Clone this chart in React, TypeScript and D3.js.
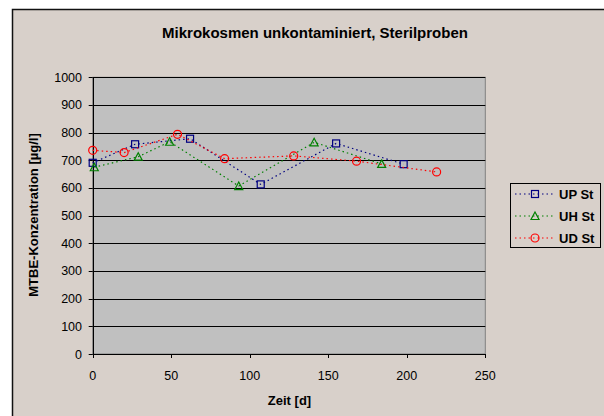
import React from "react";
import * as d3 from "d3";

const upX = [0, 27, 62, 107, 155, 198];
const upY = [691, 758, 778, 613, 761, 686];
const uhX = [1, 29, 49, 93, 141, 184];
const uhY = [675, 713, 767, 607, 765, 687];
const udX = [0, 20, 54, 84, 128, 168, 219];
const udY = [736, 728, 794, 706, 716, 697, 658];
const xTicks = [0, 50, 100, 150, 200, 250];
const yTicks = [0, 100, 200, 300, 400, 500, 600, 700, 800, 900, 1000];
const seriesNames = ["UP St", "UH St", "UD St"];

const W = 604, H = 416;
const font = "Liberation Sans, Arial, sans-serif";

export default function App() {
  const x = d3.scaleLinear().domain([0, 250]).range([92.7, 485.3]);
  const y = d3.scaleLinear().domain([0, 1000]).range([354, 77.3]);
  const series = [
    { name: seriesNames[0], xs: upX, ys: upY, color: "#000080", marker: "square" },
    { name: seriesNames[1], xs: uhX, ys: uhY, color: "#008000", marker: "triangle" },
    { name: seriesNames[2], xs: udX, ys: udY, color: "#ff0000", marker: "circle" },
  ];
  const line = d3.line<[number, number]>().x(d => x(d[0])).y(d => y(d[1]));
  const marker = (type: string, cx: number, cy: number, color: string, key: any) => {
    if (type === "square")
      return <rect key={key} x={cx - 3.5} y={cy - 3.5} width={7} height={7} fill="none" stroke={color} strokeWidth={1.2} />;
    if (type === "triangle")
      return <path key={key} d={`M${cx},${cy - 4}L${cx + 4},${cy + 3.5}L${cx - 4},${cy + 3.5}Z`} fill="none" stroke={color} strokeWidth={1.2} />;
    return <circle key={key} cx={cx} cy={cy} r={4} fill="none" stroke={color} strokeWidth={1.2} />;
  };
  const [x0, x1] = x.range();
  const [y0, y1] = y.range();
  const legY = [194, 216, 238];
  return (
    <div style={{ position: "absolute", left: 0, top: 0 }}>
      <svg width={W} height={H} style={{ display: "block" }} fontFamily={font}>
        <rect x={0} y={0} width={W} height={H} fill="#ffffff" />
        <rect x={12.5} y={9.5} width={W + 10} height={H + 10} fill="#d8d0ca" stroke="#111" strokeWidth={1.5} />
        <text x={315} y={38} textAnchor="middle" fontSize={15} fontWeight="bold">Mikrokosmen unkontaminiert, Sterilproben</text>
        <rect x={x0} y={y1} width={x1 - x0} height={y0 - y1} fill="#c0c0c0" stroke="#808080" strokeWidth={1} />
        {yTicks.map(t => (
          <line key={"g" + t} x1={x0} x2={x1} y1={Math.round(y(t)) + 0.5} y2={Math.round(y(t)) + 0.5} stroke="#000" strokeWidth={1} />
        ))}
        <line x1={Math.round(x0) + 0.5} x2={Math.round(x0) + 0.5} y1={y1} y2={y0} stroke="#000" />
        <line x1={x0} x2={x1} y1={Math.round(y0) + 0.5} y2={Math.round(y0) + 0.5} stroke="#000" />
        {yTicks.map(t => (
          <g key={"yt" + t}>
            <line x1={x0 - 4} x2={x0} y1={Math.round(y(t)) + 0.5} y2={Math.round(y(t)) + 0.5} stroke="#000" />
            <text x={82} y={y(t) + 4.5} textAnchor="end" fontSize={12.5}>{t}</text>
          </g>
        ))}
        {xTicks.map(t => (
          <g key={"xt" + t}>
            <line x1={Math.round(x(t)) + 0.5} x2={Math.round(x(t)) + 0.5} y1={y0} y2={y0 + 4} stroke="#000" />
            <text x={x(t)} y={380} textAnchor="middle" fontSize={12.5}>{t}</text>
          </g>
        ))}
        <text x={289.5} y={404.5} textAnchor="middle" fontSize={13} fontWeight="bold">Zeit [d]</text>
        <text transform={`translate(38,215) rotate(-90)`} textAnchor="middle" fontSize={13} fontWeight="bold">MTBE-Konzentration [µg/l]</text>
        {series.map((s, i) => (
          <g key={s.name}>
            <path d={line(s.xs.map((v, j) => [v, s.ys[j]] as [number, number])) || ""} fill="none" stroke={s.color} strokeWidth={1.2} strokeDasharray="1.5,3" />
            {s.xs.map((v, j) => marker(s.marker, x(v), y(s.ys[j]), s.color, j))}
          </g>
        ))}
        <rect x={510.5} y={183.5} width={90} height={64} fill="#d8d0ca" stroke="#000" strokeWidth={1} />
        {series.map((s, i) => (
          <g key={"l" + s.name}>
            <line x1={515} x2={555} y1={legY[i]} y2={legY[i]} stroke={s.color} strokeWidth={1.2} strokeDasharray="1.5,3" />
            {marker(s.marker, 535, legY[i], s.color, "m")}
            <text x={559} y={legY[i] + 5} fontSize={13} fontWeight="bold">{s.name}</text>
          </g>
        ))}
      </svg>
    </div>
  );
}
